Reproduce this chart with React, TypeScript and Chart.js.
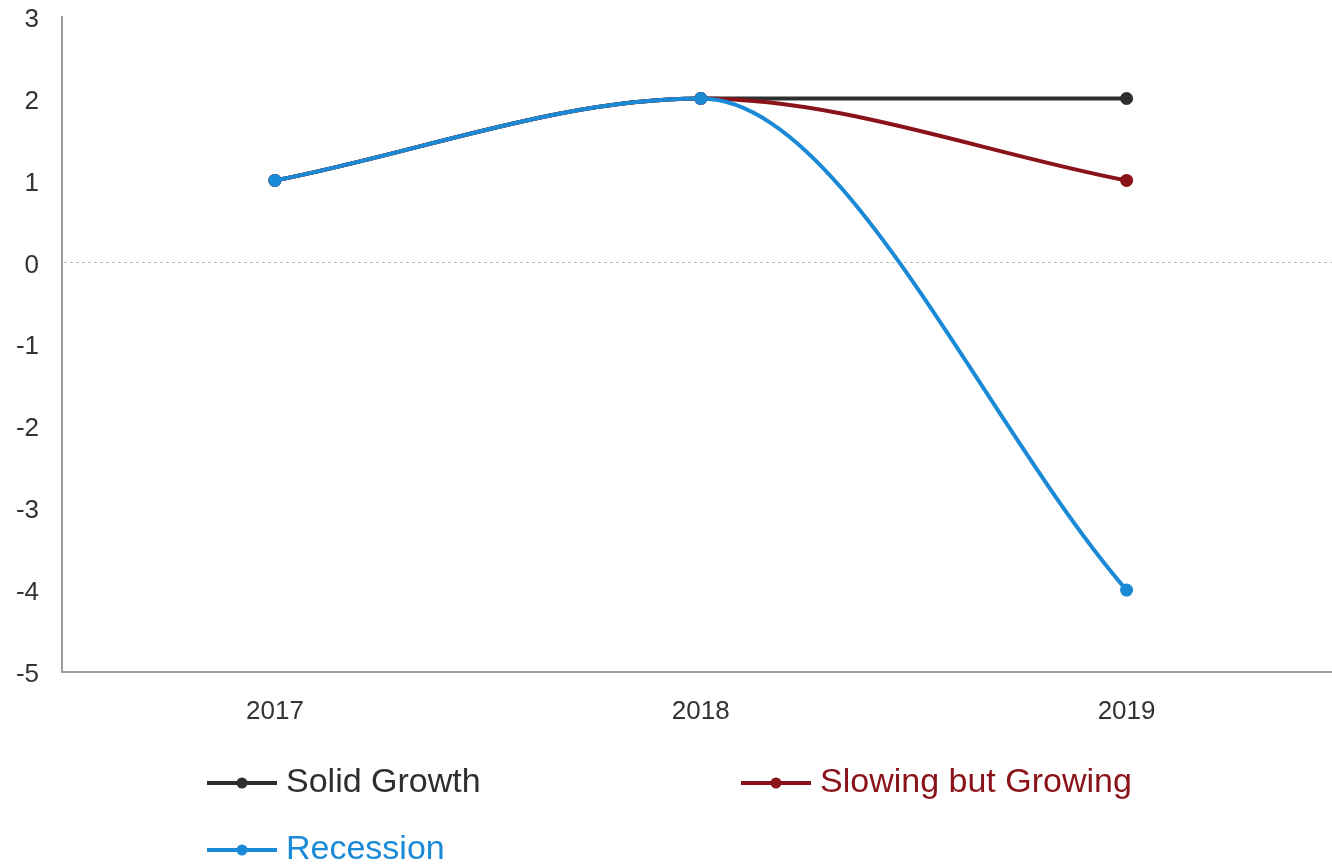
import React, { useEffect, useRef } from "react";
import { Chart, registerables } from "chart.js";

Chart.register(...registerables);

const categories = ["2017", "2018", "2019"];
const solidGrowth = [1, 2, 2];
const slowingButGrowing = [1, 2, 1];
const recession = [1, 2, -4];
const seriesNames = ["Solid Growth", "Slowing but Growing", "Recession"];
const seriesColors = ["#2e2e2e", "#8a1219", "#1b8ad6"];
const yMin = -5;
const yMax = 3;

const FONT = "'Liberation Sans', Arial, sans-serif";

const zeroLinePlugin = {
  id: "zeroLine",
  beforeDatasetsDraw(chart: any) {
    const y = chart.scales.y.getPixelForValue(0);
    const { left, right } = chart.chartArea;
    const ctx = chart.ctx;
    ctx.save();
    ctx.strokeStyle = "#bdbdbd";
    ctx.lineWidth = 1;
    ctx.setLineDash([3, 3]);
    ctx.beginPath();
    ctx.moveTo(left + 2, Math.round(y) + 0.5);
    ctx.lineTo(right, Math.round(y) + 0.5);
    ctx.stroke();
    ctx.restore();
  },
};

const legendPlugin = {
  id: "customLegend",
  afterDraw(chart: any) {
    const ctx = chart.ctx;
    const shift = 22;
    const colX = [207, 741];
    const rowY = [783 + shift, 850 + shift];
    ctx.save();
    chart.data.datasets.forEach((ds: any, i: number) => {
      const x0 = colX[i % 2];
      const y = rowY[Math.floor(i / 2)];
      const color = ds.borderColor;
      ctx.strokeStyle = color;
      ctx.fillStyle = color;
      ctx.lineWidth = 4;
      ctx.setLineDash([]);
      ctx.beginPath();
      ctx.moveTo(x0, y);
      ctx.lineTo(x0 + 70, y);
      ctx.stroke();
      ctx.beginPath();
      ctx.arc(x0 + 35, y, 5.5, 0, Math.PI * 2);
      ctx.fill();
      ctx.font = `34px ${FONT}`;
      ctx.textBaseline = "middle";
      ctx.textAlign = "left";
      ctx.fillText(ds.label, x0 + 79, y);
    });
    ctx.restore();
  },
};

export default function App() {
  const ref = useRef<HTMLCanvasElement | null>(null);

  useEffect(() => {
    if (!ref.current) return;
    const values = [solidGrowth, slowingButGrowing, recession];
    const chart = new Chart(ref.current, {
      type: "line",
      data: {
        labels: categories,
        datasets: values.map((v, i) => ({
          label: seriesNames[i],
          data: v,
          order: values.length - 1 - i,
          borderColor: seriesColors[i],
          backgroundColor: seriesColors[i],
          pointBackgroundColor: seriesColors[i],
          pointBorderColor: seriesColors[i],
          borderWidth: 4,
          pointRadius: 6.5,
          pointBorderWidth: 0,
          cubicInterpolationMode: "monotone",
          fill: false,
        })),
      },
      options: {
        responsive: false,
        animation: false,
        layout: { padding: { top: 16, left: 0, right: 0, bottom: 0 } },
        plugins: {
          legend: { display: false },
          tooltip: { enabled: false },
        },
        scales: {
          x: {
            offset: true,
            grid: { display: false, drawTicks: false },
            border: { display: true, color: "#9d9d9d", width: 2 },
            ticks: {
              color: "#333333",
              font: { family: FONT, size: 26 },
              padding: 24,
            },
            afterFit(scale: any) {
              scale.height = 193;
            },
          },
          y: {
            min: yMin,
            max: yMax,
            grid: { display: false, drawTicks: false },
            border: { display: true, color: "#9d9d9d", width: 2 },
            ticks: {
              stepSize: 1,
              color: "#333333",
              font: { family: FONT, size: 26 },
              padding: 23,
              labelOffset: 3,
            },
            afterFit(scale: any) {
              scale.width = 62;
            },
          },
        },
      },
      plugins: [zeroLinePlugin, legendPlugin],
    });
    return () => chart.destroy();
  }, []);

  return (
    <div
      style={{
        position: "fixed",
        left: 0,
        top: 0,
        width: 1332,
        height: 865,
        overflow: "hidden",
        background: "#ffffff",
      }}
    >
      <canvas
        ref={ref}
        width={1346}
        height={887}
        style={{ width: 1346, height: 887, display: "block", marginTop: -22 }}
      />
    </div>
  );
}
